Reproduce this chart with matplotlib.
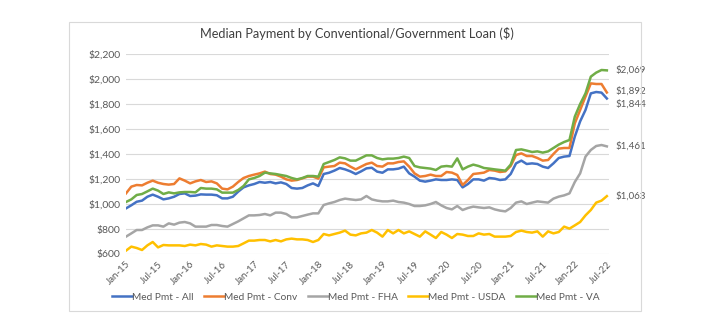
import matplotlib.pyplot as plt
from matplotlib.patches import Rectangle

# monthly values, Jan-15 .. Jul-22 (91 months)
med_all = [965, 990, 1018, 1027, 1058, 1075, 1058, 1037, 1045, 1058,
           1080, 1085, 1064, 1067, 1077, 1075, 1075, 1070, 1045, 1045,
           1058, 1099, 1133, 1149, 1160, 1176, 1170, 1176, 1165, 1173,
           1160, 1128, 1123, 1128, 1149, 1165, 1144, 1240, 1250, 1267,
           1288, 1277, 1261, 1240, 1261, 1285, 1290, 1259, 1250, 1277,
           1277, 1283, 1299, 1245, 1219, 1187, 1179, 1187, 1197, 1192,
           1192, 1197, 1192, 1133, 1160, 1197, 1197, 1187, 1208, 1203,
           1192, 1197, 1240, 1325, 1347, 1320, 1325, 1320, 1299, 1288,
           1325, 1368, 1379, 1384, 1539, 1661, 1752, 1885, 1896, 1891,
           1844]
med_conv = [1085, 1139, 1152, 1149, 1170, 1187, 1170, 1160, 1155, 1160,
            1205, 1187, 1165, 1181, 1192, 1176, 1181, 1165, 1123, 1117,
            1139, 1176, 1208, 1224, 1235, 1245, 1259, 1240, 1235, 1219,
            1197, 1187, 1192, 1205, 1219, 1219, 1203, 1293, 1299, 1304,
            1331, 1325, 1299, 1277, 1299, 1320, 1331, 1304, 1299, 1325,
            1325, 1336, 1341, 1299, 1245, 1219, 1224, 1235, 1224, 1224,
            1256, 1251, 1232, 1152, 1192, 1240, 1245, 1251, 1272, 1267,
            1256, 1261, 1304, 1392, 1405, 1384, 1384, 1368, 1347, 1352,
            1400, 1443, 1448, 1448, 1645, 1752, 1859, 1965, 1960, 1960,
            1892]
med_fha = [739, 765, 792, 792, 813, 829, 829, 819, 845, 835,
           851, 856, 845, 819, 819, 819, 832, 832, 824, 819,
           840, 861, 885, 909, 909, 912, 920, 909, 931, 931,
           920, 893, 893, 904, 915, 925, 925, 992, 1005, 1016,
           1032, 1043, 1037, 1032, 1037, 1064, 1037, 1027, 1021, 1021,
           1027, 1016, 1011, 1000, 984, 984, 989, 1000, 1016, 989,
           968, 957, 984, 952, 968, 979, 973, 968, 973, 957,
           947, 941, 968, 1011, 1021, 1000, 1011, 1021, 1016, 1011,
           1043, 1059, 1069, 1085, 1176, 1245, 1379, 1432, 1464, 1472,
           1461]
med_usda = [627, 659, 648, 632, 669, 696, 653, 672, 669, 669,
            669, 664, 675, 669, 680, 675, 659, 669, 664, 659,
            659, 664, 685, 707, 707, 712, 712, 701, 712, 701,
            717, 723, 717, 717, 712, 696, 712, 760, 749, 760,
            771, 787, 755, 749, 765, 771, 792, 771, 739, 792,
            765, 792, 765, 781, 760, 739, 781, 755, 728, 776,
            755, 728, 760, 755, 744, 744, 765, 755, 760, 739,
            739, 739, 744, 776, 787, 776, 771, 781, 739, 781,
            765, 776, 819, 803, 829, 856, 909, 952, 1011, 1027,
            1063]
med_va = [1016, 1037, 1072, 1080, 1101, 1123, 1107, 1080, 1093, 1085,
          1093, 1096, 1096, 1093, 1128, 1123, 1123, 1117, 1091, 1091,
          1091, 1112, 1144, 1197, 1208, 1224, 1251, 1245, 1240, 1232,
          1224, 1208, 1197, 1208, 1224, 1224, 1219, 1320, 1336, 1352,
          1373, 1365, 1347, 1347, 1368, 1389, 1389, 1368, 1357, 1363,
          1363, 1368, 1379, 1368, 1304, 1293, 1288, 1283, 1272, 1299,
          1304, 1299, 1365, 1277, 1299, 1315, 1304, 1288, 1283, 1277,
          1272, 1267, 1315, 1432, 1437, 1427, 1416, 1421, 1411, 1421,
          1448, 1475, 1496, 1512, 1699, 1800, 1885, 2019, 2051, 2072,
          2069]

series_names = ["Med Pmt - All", "Med Pmt - Conv", "Med Pmt - FHA",
                "Med Pmt - USDA", "Med Pmt - VA"]
tick_labels = ["Jan-15", "Jul-15", "Jan-16", "Jul-16", "Jan-17", "Jul-17",
               "Jan-18", "Jul-18", "Jan-19", "Jul-19", "Jan-20", "Jul-20",
               "Jan-21", "Jul-21", "Jan-22", "Jul-22"]
y_ticks = [600, 800, 1000, 1200, 1400, 1600, 1800, 2000, 2200]

colors = ["#4472C4", "#ED7D31", "#A5A5A5", "#FFC000", "#70AD47"]
all_series = [med_all, med_conv, med_fha, med_usda, med_va]

plt.rcParams["font.family"] = ["Lato", "DejaVu Sans"]
txt = "#595959"

W, H = 710, 332
fig = plt.figure(figsize=(W / 100, H / 100), dpi=100)
ax = fig.add_axes([126 / W, 1 - 254 / H, (609 - 126) / W, (254 - 54) / H])

for vals, name, c in zip(all_series, series_names, colors):
    ax.plot(range(len(vals)), vals, color=c, lw=1.8, label=name,
            solid_joinstyle="round")

ax.set_ylim(600, 2200)
ax.set_xlim(0, 90.4)
ax.set_yticks(y_ticks)
ax.set_yticklabels([f"${v:,}" for v in y_ticks], fontsize=7.5, color=txt)
ax.set_xticks(range(0, 91, 6))
ax.set_xticklabels(tick_labels, rotation=45, ha="right",
                   rotation_mode="anchor", fontsize=7, color=txt)
ax.tick_params(length=0, pad=4)
ax.grid(axis="y", color="#D9D9D9", lw=0.8)
ax.set_axisbelow(True)
for s in ax.spines.values():
    s.set_visible(False)

# end-of-line value labels
offsets = [-4, 1, 0, 0, 0]
for vals, off in zip(all_series, offsets):
    ax.annotate(f"${vals[-1]:,}", (len(vals) - 1, vals[-1]),
                xytext=(6, off), textcoords="offset points",
                va="center", fontsize=7, color=txt, annotation_clip=False)

fig.text(357 / W, 1 - 34 / H,
         "Median Payment by Conventional/Government Loan ($)",
         ha="center", va="center", fontsize=9.2, color="#404040")

fig.legend(loc="center", bbox_to_anchor=(356 / W, 1 - 297 / H), ncol=5,
           frameon=False, fontsize=7.3, handlelength=2.0, handletextpad=0.0,
           columnspacing=1.0, labelcolor=txt)

fig.patches.append(Rectangle((69 / W, 1 - 311 / H), (641 - 69) / W,
                             (311 - 22) / H, transform=fig.transFigure,
                             fill=False, ec="#D9D9D9", lw=0.8))

fig.savefig("out.png", dpi=100, facecolor="white")
